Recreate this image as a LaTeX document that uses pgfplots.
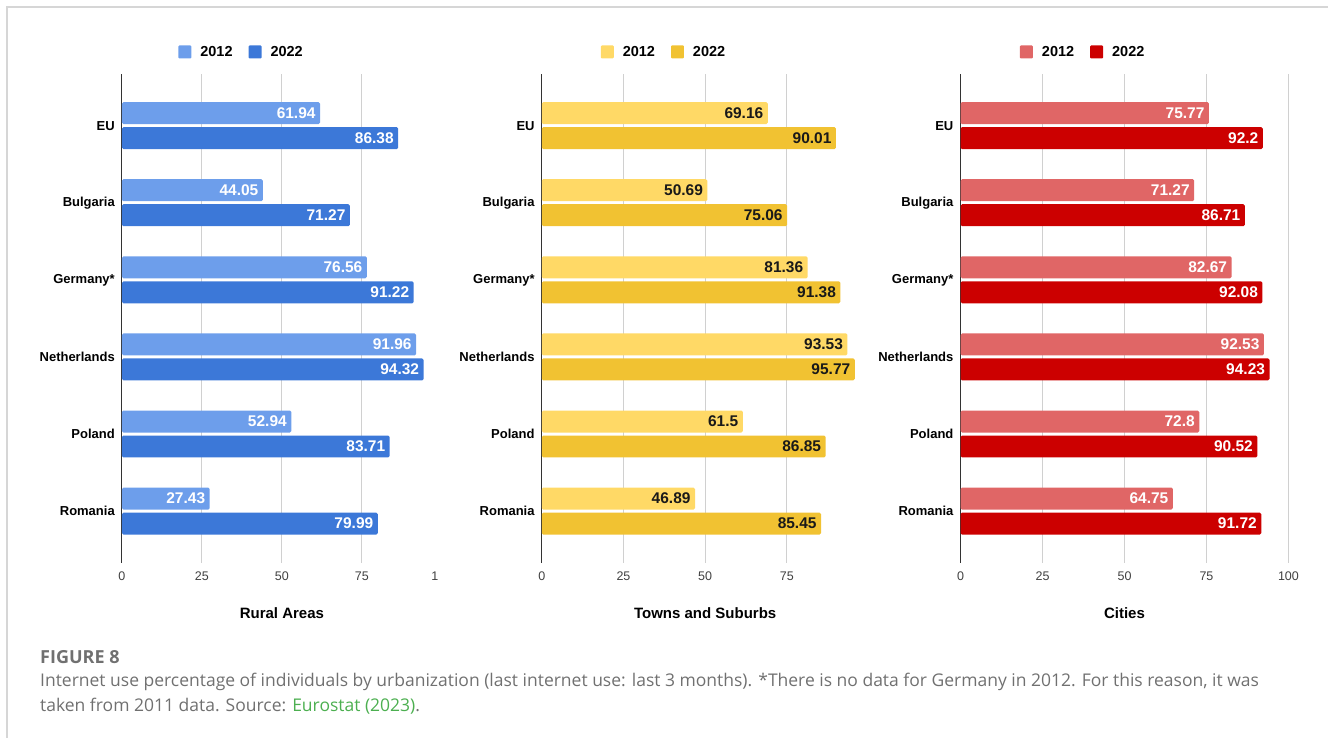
\documentclass[border=0pt]{standalone}
\usepackage{pgfplots}
\pgfplotsset{compat=1.18}
\usepackage{pgfplotstable}
\usepackage{fontspec}
\setmainfont{Liberation Sans}
\newfontfamily\capfont{Open Sans}
\definecolor{b12}{HTML}{6D9EEB}
\definecolor{b22}{HTML}{3C78D8}
\definecolor{y12}{HTML}{FFD966}
\definecolor{y22}{HTML}{F1C232}
\definecolor{r12}{HTML}{E06666}
\definecolor{r22}{HTML}{CC0000}
\definecolor{gridc}{HTML}{D0D0D0}
\definecolor{capgrey}{HTML}{707070}
\definecolor{capgreen}{HTML}{4CAF50}
\definecolor{framec}{HTML}{D6D6D6}

% y: EU=5 ... Romania=0
\pgfplotstableread{
y   a     b
5   61.94 86.38
4   44.05 71.27
3   76.56 91.22
2   91.96 94.32
1   52.94 83.71
0   27.43 79.99
}\rural
\pgfplotstableread{
y   a     b
5   69.16 90.01
4   50.69 75.06
3   81.36 91.38
2   93.53 95.77
1   61.5  86.85
0   46.89 85.45
}\towns
\pgfplotstableread{
y   a     b
5   75.77 92.2
4   71.27 86.71
3   82.67 92.08
2   92.53 94.23
1   72.8  90.52
0   64.75 91.72
}\cities

\pgfplotsset{
  sq legend/.style={legend image code/.code={\path[##1, rounded corners=1pt] (0pt,-6.5pt) rectangle (13pt,6.5pt); \path (20pt,0pt);}},
  panel/.style={
    scale only axis, height=489pt,
    xbar, bar width=22pt,
    ymin=-0.67, ymax=5.67, xmin=0, xmax=100,
    ytick={0,...,5},
    yticklabels={Romania,Poland,Netherlands,Germany*,Bulgaria,EU},
    y tick label style={font=\fontsize{13}{13}\selectfont\bfseries, anchor=east, inner sep=0pt, xshift=-7pt},
    major tick length=0pt, minor tick length=0pt,
    separate axis lines,
    axis y line*=left, axis x line*=bottom,
    x axis line style={draw=none},
    y axis line style={draw=black!80, line width=1pt},
    xtick={0,25,50,75},
    xmajorgrids, grid style={gridc, line width=0.9pt},
    x tick label style={font=\fontsize{12.5}{12.5}\selectfont, text=black!75, anchor=base, yshift=-18pt},
    /pgf/number format/assume math mode=true,
    xlabel style={font=\fontsize{15}{15}\selectfont\bfseries, at={(axis description cs:0.5,0)}, anchor=center, yshift=-50pt},
    legend style={draw=none, fill=none, legend columns=2, at={(axis description cs:0.374,1.045)}, anchor=center,
      font=\fontsize{14.5}{14.5}\selectfont\bfseries,
      /tikz/every even column/.append style={column sep=14pt}},
    nodes near coords,
    every node near coord/.append style={anchor=east, font=\fontsize{15.5}{15.5}\selectfont\bfseries, xshift=-1pt},
  }
}

\begin{document}
\begin{tikzpicture}[x=1pt,y=1pt]
\path (0pt,0pt) rectangle (1329pt,-738pt);
\draw[framec, line width=1.2pt] (7pt,-738pt) -- (7pt,-7pt) -- (1329pt,-7pt);

% Rural Areas
\begin{axis}[panel, at={(122pt,-74pt)}, anchor=north west, width=320pt,
  xlabel={Rural Areas},
  extra x ticks={100}, extra x tick labels={{1\phantom{00}}},
  extra x tick style={grid=none},
  every node near coord/.append style={text=white}]
\addplot[fill=b12, draw=none, rounded corners=1.5pt, bar shift=12.5pt, sq legend] table[x=a, y=y] {\rural};
\addplot[fill=b22, draw=none, rounded corners=1.5pt, bar shift=-12.5pt, sq legend] table[x=b, y=y] {\rural};
\legend{2012,2022}
\end{axis}

% Towns and Suburbs
\begin{axis}[panel, at={(542pt,-74pt)}, anchor=north west, width=327pt,
  xlabel={Towns and Suburbs},
  every node near coord/.append style={text=black!90}]
\addplot[fill=y12, draw=none, rounded corners=1.5pt, bar shift=12.5pt, sq legend] table[x=a, y=y] {\towns};
\addplot[fill=y22, draw=none, rounded corners=1.5pt, bar shift=-12.5pt, sq legend] table[x=b, y=y] {\towns};
\legend{2012,2022}
\end{axis}

% Cities
\begin{axis}[panel, at={(961pt,-74pt)}, anchor=north west, width=328pt,
  xlabel={Cities}, xtick={0,25,50,75,100},
  every node near coord/.append style={text=white}]
\addplot[fill=r12, draw=none, rounded corners=1.5pt, bar shift=12.5pt, sq legend] table[x=a, y=y] {\cities};
\addplot[fill=r22, draw=none, rounded corners=1.5pt, bar shift=-12.5pt, sq legend] table[x=b, y=y] {\cities};
\legend{2012,2022}
\end{axis}

% Caption
\node[anchor=base west, inner sep=0pt, text=capgrey, font=\capfont\bfseries\fontsize{18}{18}\selectfont] at (40pt,-664pt) {FIGURE 8};
\node[anchor=base west, inner sep=0pt, text=capgrey, font=\capfont\fontsize{17.5}{17.5}\selectfont] at (40pt,-687pt)
  {Internet use percentage of individuals by urbanization (last internet use: last 3 months). *There is no data for Germany in 2012. For this reason, it was};
\node[anchor=base west, inner sep=0pt, text=capgrey, font=\capfont\fontsize{17.5}{17.5}\selectfont] at (40pt,-712pt)
  {taken from 2011 data. Source: \textcolor{capgreen}{Eurostat (2023)}.};
\end{tikzpicture}
\end{document}
